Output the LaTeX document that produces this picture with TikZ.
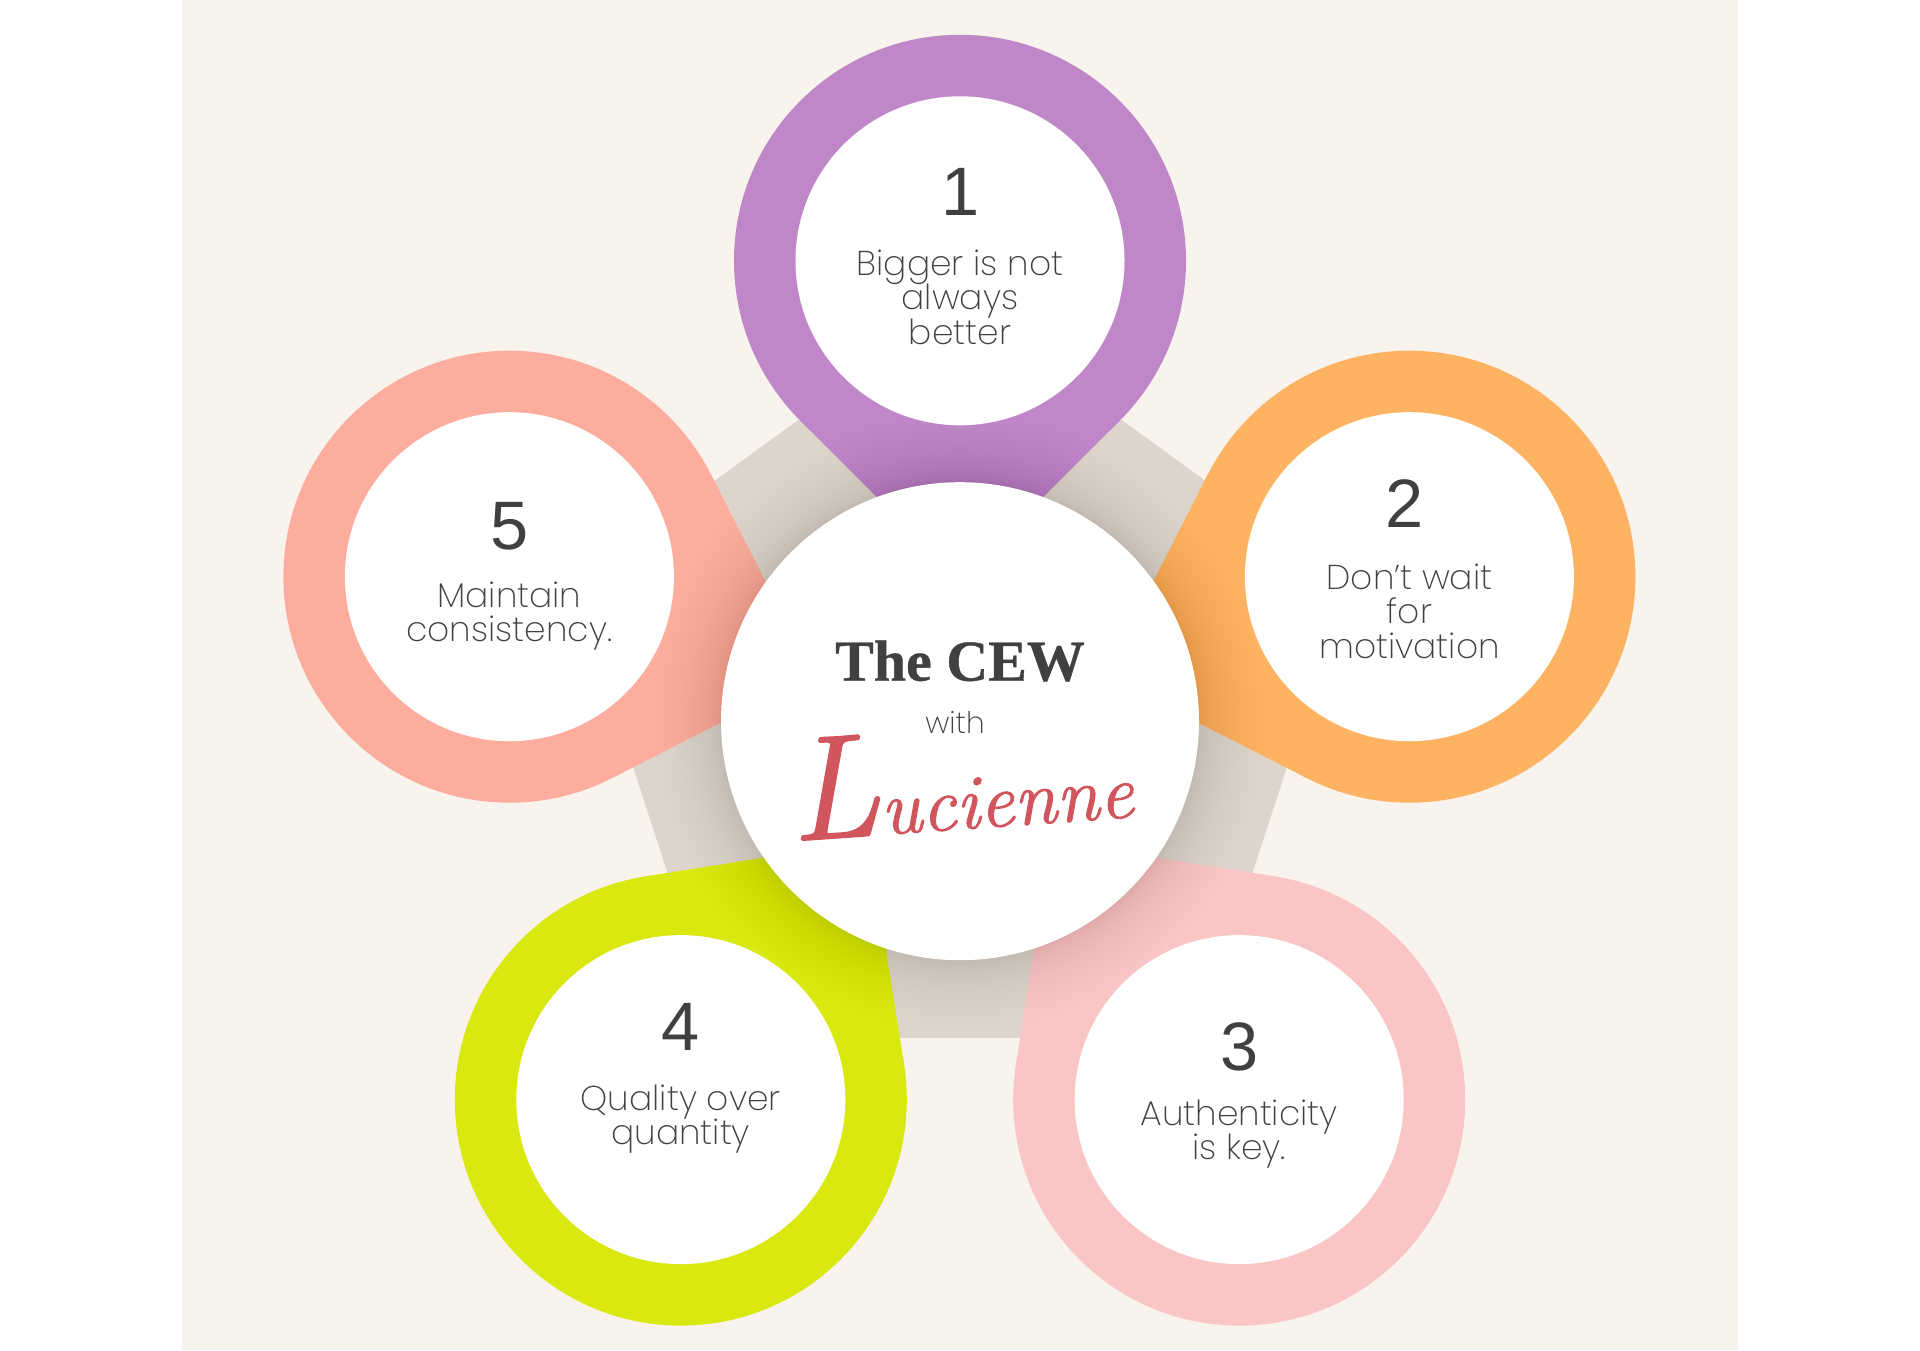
\documentclass[tikz,border=0pt]{standalone}
\usepackage{fontspec}
\usetikzlibrary{calc}
\newfontfamily\labelfont{Poppins ExtraLight}
\newfontfamily\numfont{Liberation Sans}
\newfontfamily\cewfont{Liberation Serif}[BoldFeatures={FakeBold=0.6}]
\newfontfamily\brushfont{Latin Modern Roman}[ItalicFeatures={FakeBold=1.2}]
\newcommand\steplines{\labelfont\fontsize{9.8}{9.85}\selectfont\setlength{\lineskiplimit}{-50pt}\relax}
\definecolor{ink}{HTML}{404040}
\definecolor{soft}{HTML}{404040}
\definecolor{paper}{HTML}{F8F3EC}
\definecolor{stone}{HTML}{DDD5CB}
\definecolor{plum}{HTML}{BF87C8}
\definecolor{amber}{HTML}{FEB362}
\definecolor{blush}{HTML}{F9C5C5}
\definecolor{lime}{HTML}{D9E80F}
\definecolor{salmon}{HTML}{FDAD9D}
\definecolor{brush}{HTML}{D1555C}
\tikzset{hole/.style={circle,fill=white,minimum size=32.9mm,inner sep=0pt},
  numtext/.style={font=\numfont\fontsize{19.5}{20}\selectfont,text=ink,inner sep=0pt},
  steptext/.style={font=\steplines,text=soft,align=center,inner sep=0pt}}

\begin{document}
\begin{tikzpicture}
\useasboundingbox (0,0) rectangle (19.2,13.5);
\fill[paper] (1.815,0) rectangle (17.375,13.5);
\coordinate (mid) at (9.60,6.41);
\fill[stone] (mid) ++(90:4.065) -- ++(-36:4.779) -- ++(-108:4.779) -- ++(180:4.779) -- ++(108:4.779) -- cycle;
\coordinate (c1) at (9.60,10.892);
\coordinate (c2) at (14.094,7.733);
\coordinate (c3) at (12.392,2.504);
\coordinate (c4) at (6.808,2.504);
\coordinate (c5) at (5.094,7.733);
% the five pins
\foreach \pin/\ang/\col in {c1/270/plum,c2/198/amber,c3/126/blush,c4/54/lime,c5/-18/salmon}{
  \fill[\col] (\pin) circle (2.26);
  \fill[\col] ($(\pin)+(\ang+45:2.26)$) -- ($(\pin)+(\ang:3.196)$) -- ($(\pin)+(\ang-45:2.26)$) -- (\pin) -- cycle;
}
% soft shadow of the hub
\foreach \i in {0,...,30}{\fill[black,opacity=.0055] (9.60,6.288) circle ({2.39+.65*(\i/30)*(\i/30)});}
\node[hole] (in1) at (c1) {};
\node[hole] (in2) at (c2) {};
\node[hole] (in3) at (c3) {};
\node[hole] (in4) at (c4) {};
\node[hole] (in5) at (c5) {};
\node[circle,fill=white,minimum size=47.8mm,inner sep=0pt] (hub) at (9.60,6.288) {};
\node[numtext] (num1) at (9.61,11.58) {1};
\node[numtext] (num2) at (14.05,8.46) {2};
\node[numtext] (num3) at (12.392,3.03) {3};
\node[numtext] (num4) at (6.808,3.23) {4};
\node[numtext] (num5) at (5.094,8.24) {5};
\node[steptext] (txt1) at (9.60,10.53) {Bigger is not\\always\\better};
\node[steptext] (txt2) at (14.094,7.39) {Don’t wait\\for\\motivation};
\node[steptext] (txt3) at (12.392,2.16) {Authenticity\\is key.};
\node[steptext] (txt4) at (6.808,2.31) {Quality over\\quantity};
\node[steptext] (txt5) at (5.094,7.34) {Maintain\\consistency.};
\node[font=\cewfont\bfseries\fontsize{16.5}{18}\selectfont,text=ink,inner sep=0pt] (cew) at (9.60,6.89) {The CEW};
\node[font=\labelfont\fontsize{8.5}{10}\selectfont,text=soft,inner sep=0pt] (with) at (9.55,6.28) {with};
\node[font=\brushfont\itshape\fontsize{22}{24}\selectfont,text=brush,rotate=4,inner sep=0pt] (name) at (9.60,5.71) {{\fontsize{42}{44}\selectfont L}ucienne};
\end{tikzpicture}
\end{document}
